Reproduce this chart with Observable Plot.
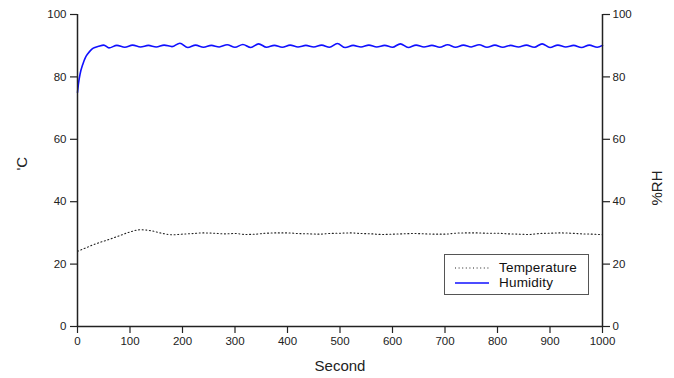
<!DOCTYPE html>
<html>
<head>
<meta charset="utf-8">
<script src="https://cdn.jsdelivr.net/npm/d3@7"></script>
<script src="https://cdn.jsdelivr.net/npm/@observablehq/plot@0.6"></script>
<style>
  html, body { margin: 0; padding: 0; background: #fff; }
  #wrap { position: relative; width: 674px; height: 378px; font-family: "Liberation Sans", Arial, sans-serif; }
  #legend { position: absolute; left: 444px; top: 254px; width: 145px; height: 41px; border: 1.5px solid #555; background: #fff; box-sizing: border-box; }
  .row { position: absolute; left: 0; display: flex; align-items: center; font-size: 13.5px; color: #111; letter-spacing: 0.2px; }
  .sw { width: 34px; margin-left: 10px; margin-right: 10px; }
</style>
</head>
<body>
<div id="wrap"></div>
<script>
// Temperature (°C) vs seconds
const tempX = [0, 10, 20, 30, 40, 60, 80, 100, 120, 140, 160, 180, 200, 220, 240, 260, 280, 300, 320, 340, 360, 380, 400, 420, 440, 460, 480, 500, 520, 540, 560, 580, 600, 620, 640, 660, 680, 700, 720, 740, 760, 780, 800, 820, 840, 860, 880, 900, 920, 940, 960, 980, 1000];
const tempY = [24.1, 24.8, 25.5, 26.2, 26.8, 27.9, 29.1, 30.3, 31.0, 30.7, 29.9, 29.4, 29.6, 29.8, 30.0, 29.9, 29.7, 29.8, 29.5, 29.6, 29.9, 30.0, 30.0, 29.8, 29.7, 29.6, 29.8, 29.9, 30.0, 29.8, 29.7, 29.5, 29.6, 29.7, 29.8, 29.7, 29.6, 29.6, 29.9, 30.0, 30.0, 29.9, 29.9, 29.7, 29.6, 29.5, 29.8, 29.9, 30.0, 29.9, 29.7, 29.6, 29.4];

// Humidity (%RH) vs seconds
const humX = [0, 2, 5, 10, 15, 20, 25, 30, 40, 50,
  60, 75, 90, 105, 120, 135, 150, 165, 180, 195, 210, 225, 240, 255, 270, 285, 300, 315, 330, 345,
  360, 375, 390, 405, 420, 435, 450, 465, 480, 495, 510, 525, 540, 555, 570, 585, 600, 615, 630, 645,
  660, 675, 690, 705, 720, 735, 750, 765, 780, 795, 810, 825, 840, 855, 870, 885, 900, 915, 930, 945,
  960, 975, 990, 1000];
const humY = [75.0, 78.0, 81.0, 84.0, 86.2, 87.5, 88.5, 89.2, 89.8, 90.2,
  89.3, 90.1, 89.5, 90.2, 89.6, 90.1, 89.6, 90.2, 89.7, 90.8, 89.4, 90.2, 89.5, 90.1, 89.6, 90.3, 89.5, 90.4, 89.4, 90.6,
  89.5, 90.1, 89.5, 90.2, 89.6, 90.1, 89.6, 90.2, 89.5, 90.7, 89.4, 90.1, 89.6, 90.2, 89.6, 90.1, 89.5, 90.6, 89.4, 90.2,
  89.6, 90.1, 89.5, 90.3, 89.5, 90.2, 89.6, 90.3, 89.5, 90.2, 89.5, 90.1, 89.6, 90.2, 89.5, 90.6, 89.4, 90.2, 89.6, 90.1,
  89.4, 90.2, 89.5, 90.1];

const yTicks = [0, 20, 40, 60, 80, 100];
const xTicks = [0, 100, 200, 300, 400, 500, 600, 700, 800, 900, 1000];
const seriesNames = ["Temperature", "Humidity"];
const xLabel = "Second";
const yLeftLabel = "'C";
const yRightLabel = "%RH";

const temp = tempX.map((x, i) => ({x, y: tempY[i]}));
const hum = humX.map((x, i) => ({x, y: humY[i]}));

const axisColor = "#222";
const chart = Plot.plot({
  width: 674,
  height: 378,
  marginLeft: 77,
  marginRight: 72,
  marginTop: 14,
  marginBottom: 52,
  style: {fontFamily: "'Liberation Sans', Arial, sans-serif", fontSize: "11.5px", color: "#222", background: "#fff"},
  x: {domain: [0, 1000]},
  y: {domain: [0, 100]},
  marks: [
    Plot.line(temp, {x: "x", y: "y", stroke: "#222", strokeWidth: 1.1, strokeDasharray: "1,2.6", curve: "monotone-x"}),
    Plot.line(hum, {x: "x", y: "y", stroke: "#1010ff", strokeWidth: 1.6, curve: "monotone-x"}),
    Plot.ruleX([0], {stroke: axisColor, strokeWidth: 1.5}),
    Plot.ruleX([1000], {stroke: axisColor, strokeWidth: 1.5}),
    Plot.ruleY([0], {stroke: axisColor, strokeWidth: 1.5}),
    Plot.axisY(yTicks, {anchor: "left", tickSize: 7, tickPadding: 4, strokeWidth: 1.2, label: null, fontSize: 11.5, tickFormat: "d"}),
    Plot.axisY(yTicks, {anchor: "right", tickSize: 7, tickPadding: 3, strokeWidth: 1.2, label: null, fontSize: 11.5, tickFormat: "d"}),
    Plot.axisX(xTicks, {anchor: "bottom", tickSize: 7, tickPadding: 3, strokeWidth: 1.2, label: null, fontSize: 11.5, tickFormat: "d"}),
    Plot.text([xLabel], {frameAnchor: "bottom", dy: 44, fontSize: 15, fill: "#222"}),
    Plot.text([yLeftLabel], {frameAnchor: "left", dx: -55, rotate: -90, fontSize: 15, fill: "#222"}),
    Plot.text([yRightLabel], {frameAnchor: "right", dx: 55, rotate: -90, fontSize: 15, fill: "#222"})
  ]
});
const wrap = document.getElementById("wrap");
wrap.appendChild(chart);

const legend = document.createElement("div");
legend.id = "legend";
legend.innerHTML = `
  <div class="row" style="top:5px"><svg class="sw" width="34" height="6"><line x1="0" y1="3" x2="34" y2="3" stroke="#222" stroke-width="1.1" stroke-dasharray="1,2.6"/></svg><span>${seriesNames[0]}</span></div>
  <div class="row" style="top:20px"><svg class="sw" width="34" height="6"><line x1="0" y1="3" x2="34" y2="3" stroke="#1010ff" stroke-width="1.6"/></svg><span>${seriesNames[1]}</span></div>`;
wrap.appendChild(legend);
</script>
</body>
</html>
